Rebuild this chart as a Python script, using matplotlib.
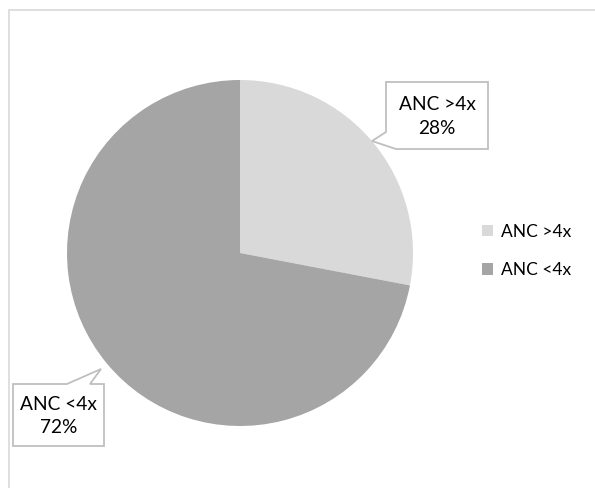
import matplotlib
matplotlib.use("Agg")
import matplotlib.pyplot as plt
from matplotlib.patches import Polygon, Rectangle

labels = ["ANC >4x", "ANC <4x"]
shares = [28, 72]
colors = ["#d9d9d9", "#a5a5a5"]

W, H = 595, 488
CX, CY, R = 240, 253, 173

fig = plt.figure(figsize=(W / 100, H / 100), dpi=100)
ax = fig.add_axes([0, 0, 1, 1])


def px(x, y):
    return ((x - CX) / R, (CY - y) / R)


# chart frame (right and bottom run past the image)
fig.patches.append(Rectangle((9 / W, -0.1), 1.1, 1 - 10 / H + 0.1,
                             transform=fig.transFigure, fill=False,
                             ec="#d9d9d9", lw=1.2))

wedges, _ = ax.pie(shares, colors=colors, startangle=90, counterclock=False,
                   radius=1.0, center=(0, 0), frame=True)
ax.set_xlim(-CX / R, (W - CX) / R)
ax.set_ylim((CY - H) / R, CY / R)
ax.set_aspect("auto")
ax.axis("off")

# callouts: box corners + pointer, in pixel coords
callouts = [
    [(386, 82), (488, 82), (488, 149), (396, 149), (372, 141), (386, 132)],
    [(13, 384), (67, 384), (101, 369), (90, 384), (104, 384), (104, 446), (13, 446)],
]
boxes = [(386, 488, 82, 149), (13, 104, 384, 446)]
for pts, (x0, x1, y0, y1), lab, val in zip(callouts, boxes, labels, shares):
    ax.add_patch(Polygon([px(*p) for p in pts], closed=True, fc="white",
                         ec="#bfbfbf", lw=1.3, zorder=3))
    tx, ty = px((x0 + x1) / 2, (y0 + y1) / 2 + 1)
    ax.text(tx, ty, f"{lab}\n{val}%", ha="center", va="center",
            fontsize=13.8, family="Lato", linespacing=1.45, zorder=4)

leg = ax.legend(wedges, labels, loc="center left",
                bbox_to_anchor=(466 / W, 1 - 251 / H), bbox_transform=fig.transFigure,
                frameon=False, prop={"family": "Lato", "size": 12.5},
                handlelength=0.65, handleheight=0.65, handletextpad=0.45,
                labelspacing=1.3)

fig.savefig("out.png", dpi=100)
